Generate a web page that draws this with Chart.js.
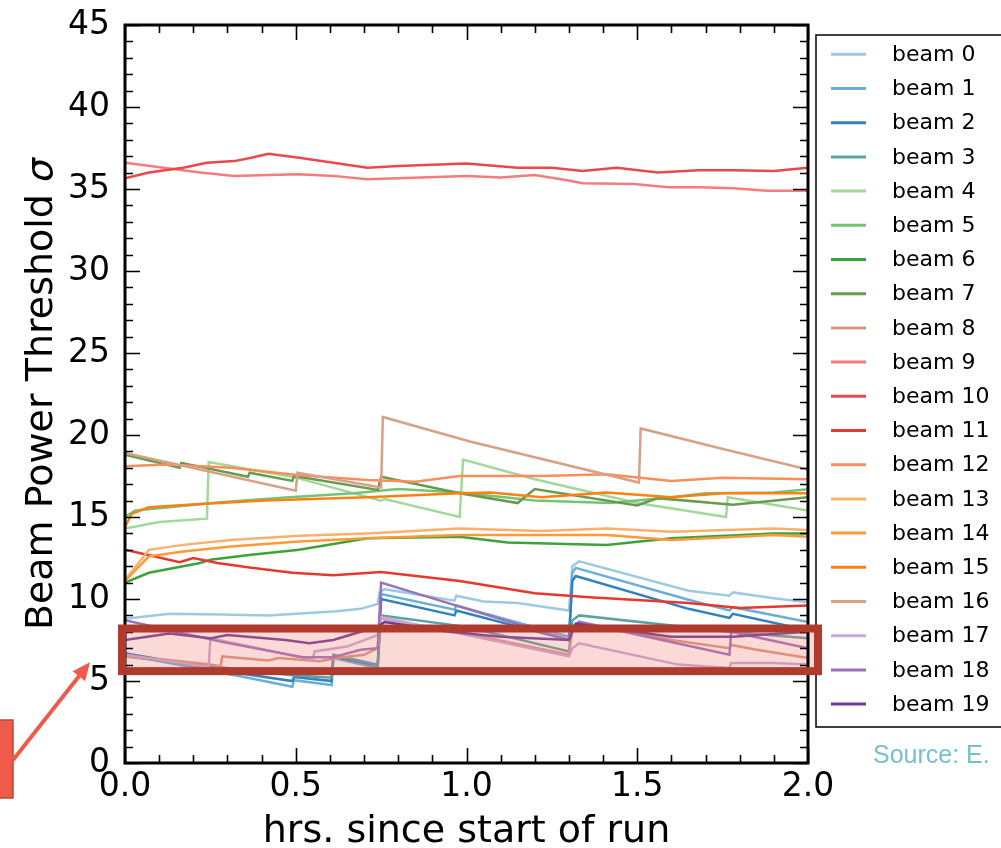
<!DOCTYPE html>
<html>
<head>
<meta charset="utf-8">
<title>Beam power threshold</title>
<script src="https://cdn.jsdelivr.net/npm/chart.js@4.4.1/dist/chart.umd.min.js"></script>
<style>
  html, body { margin: 0; padding: 0; background: #fff; }
  #wrap { width: 1001px; height: 848px; }
</style>
</head>
<body>
<div id="wrap"><canvas id="chart" width="1001" height="848"></canvas></div>
<script>
// [hours since start of run, threshold in sigma]
const beam0 = [[0, 8.8], [0.13, 9.1], [0.28, 9.05], [0.42, 9.0], [0.62, 9.25], [0.69, 9.4], [0.74, 9.7], [0.745, 10.4], [0.76, 10.6], [0.965, 9.9], [0.97, 10.2], [1.05, 9.85], [1.15, 9.75], [1.30, 9.3], [1.31, 12.0], [1.33, 12.3], [1.65, 10.5], [1.77, 10.2], [1.78, 10.4], [1.9, 10.05], [2.0, 9.8]];
const beam1 = [[0, 6.6], [0.36, 5.2], [0.49, 4.65], [0.495, 5.05], [0.605, 4.75], [0.61, 6.4], [0.74, 5.8], [0.75, 10.3], [0.965, 9.35], [0.97, 9.6], [1.30, 7.7], [1.31, 11.6], [1.32, 11.9], [1.65, 9.95], [1.77, 9.3], [1.78, 9.5], [2.0, 8.6]];
const beam2 = [[0, 6.7], [0.36, 5.4], [0.49, 5.0], [0.495, 5.25], [0.605, 5.0], [0.61, 6.5], [0.74, 5.95], [0.75, 10.0], [0.965, 9.0], [0.97, 9.3], [1.30, 7.5], [1.31, 11.1], [1.32, 11.4], [1.65, 9.4], [1.77, 8.85], [1.78, 9.1], [2.0, 8.1]];
const beam3 = [[0, 6.5], [0.3, 5.8], [0.49, 5.35], [0.605, 5.2], [0.61, 6.6], [0.74, 6.0], [0.75, 9.0], [1.0, 8.3], [1.30, 6.8], [1.31, 8.7], [1.33, 9.0], [1.77, 8.0], [2.0, 7.6]];
const beam4 = [[0, 14.3], [0.1, 14.7], [0.24, 14.9], [0.245, 18.35], [0.5, 17.4], [0.75, 16.0], [0.76, 16.1], [0.98, 15.0], [0.99, 18.5], [1.2, 17.3], [1.5, 15.85], [1.76, 15.0], [1.765, 16.2], [2.0, 15.4]];
const beam5 = [[0, 15.0], [0.03, 15.4], [0.13, 15.6], [0.28, 15.9], [0.48, 16.2], [0.67, 16.45], [0.8, 16.7], [0.98, 16.5], [1.2, 16.0], [1.42, 15.85], [1.6, 16.2], [1.7, 16.45], [1.9, 16.5], [2.0, 16.7]];
const beam6 = [[0, 11.0], [0.07, 11.6], [0.22, 12.2], [0.25, 12.4], [0.37, 12.7], [0.51, 13.0], [0.71, 13.7], [0.98, 13.8], [1.12, 13.45], [1.41, 13.3], [1.6, 13.7], [1.9, 14.0], [2.0, 14.0]];
const beam7 = [[0, 18.8], [0.16, 18.0], [0.165, 18.3], [0.36, 17.45], [0.365, 17.7], [0.49, 17.2], [0.495, 17.5], [0.74, 16.65], [0.75, 17.45], [0.98, 16.45], [1.15, 15.85], [1.17, 16.2], [1.2, 16.7], [1.5, 15.7], [1.56, 16.15], [1.78, 15.75], [2.0, 16.2]];
const beam8 = [[0, 6.5], [0.12, 6.3], [0.25, 6.0], [0.28, 5.9], [0.285, 6.5], [0.42, 6.25], [0.45, 6.4], [0.57, 6.2], [0.62, 6.4], [0.7, 6.6], [0.74, 7.0], [0.75, 8.8], [1.0, 7.9], [1.30, 6.6], [1.31, 8.2], [1.33, 8.6], [1.6, 7.5], [1.77, 7.0], [1.775, 7.2], [1.85, 6.9], [2.0, 6.4]];
const beam9 = [[0, 36.6], [0.22, 36.0], [0.32, 35.8], [0.42, 35.85], [0.51, 35.9], [0.61, 35.8], [0.71, 35.6], [0.8, 35.65], [1.0, 35.8], [1.1, 35.7], [1.2, 35.85], [1.29, 35.55], [1.34, 35.35], [1.49, 35.3], [1.59, 35.1], [1.68, 35.1], [1.78, 35.05], [1.88, 34.9], [2.0, 34.9]];
const beam10 = [[0, 35.65], [0.07, 36.0], [0.17, 36.3], [0.24, 36.6], [0.32, 36.7], [0.37, 36.9], [0.42, 37.15], [0.51, 36.9], [0.61, 36.6], [0.71, 36.3], [0.8, 36.4], [1.0, 36.55], [1.15, 36.3], [1.25, 36.3], [1.34, 36.1], [1.44, 36.3], [1.56, 36.0], [1.68, 36.15], [1.78, 36.15], [1.9, 36.1], [2.0, 36.3]];
const beam11 = [[0, 13.0], [0.16, 12.25], [0.2, 12.5], [0.27, 12.2], [0.37, 11.9], [0.49, 11.6], [0.61, 11.45], [0.75, 11.65], [0.98, 11.1], [1.2, 10.35], [1.36, 10.1], [1.65, 9.75], [1.8, 9.45], [2.0, 9.6]];
const beam12 = [[0, 18.1], [0.12, 18.2], [0.31, 18.0], [0.51, 17.55], [0.71, 17.25], [0.85, 17.15], [0.98, 17.5], [1.22, 17.5], [1.41, 17.6], [1.6, 17.2], [1.75, 17.4], [2.0, 17.3]];
const beam13 = [[0, 11.15], [0.07, 13.0], [0.17, 13.3], [0.31, 13.6], [0.51, 13.85], [0.71, 14.0], [0.98, 14.3], [1.22, 14.15], [1.41, 14.3], [1.6, 14.1], [1.9, 14.3], [2.0, 14.2]];
const beam14 = [[0, 11.1], [0.07, 12.6], [0.17, 12.9], [0.31, 13.2], [0.51, 13.5], [0.71, 13.7], [0.98, 13.9], [1.22, 13.9], [1.41, 13.9], [1.6, 13.6], [1.9, 13.9], [2.0, 13.8]];
const beam15 = [[0, 14.4], [0.02, 15.2], [0.07, 15.6], [0.22, 15.8], [0.41, 16.0], [0.71, 16.2], [0.98, 16.45], [1.07, 16.5], [1.22, 16.2], [1.41, 16.5], [1.6, 16.2], [1.75, 16.45], [2.0, 16.45]];
const beam16 = [[0, 18.9], [0.5, 16.6], [0.505, 17.7], [0.75, 16.8], [0.755, 21.1], [1.01, 19.6], [1.505, 17.1], [1.51, 20.4], [1.76, 19.1], [2.0, 17.9]];
const beam17 = [[0, 6.6], [0.245, 5.85], [0.25, 7.6], [0.55, 6.3], [0.555, 6.8], [0.65, 7.1], [0.74, 7.8], [0.75, 8.9], [1.3, 6.5], [1.31, 7.0], [1.33, 7.3], [1.62, 6.0], [1.77, 5.8], [1.775, 6.1], [1.9, 6.1], [2.0, 6.0]];
const beam18 = [[0, 8.7], [0.28, 7.4], [0.52, 6.45], [0.61, 6.45], [0.69, 6.9], [0.74, 7.0], [0.75, 11.0], [1.30, 7.5], [1.31, 8.3], [1.33, 8.6], [1.77, 6.6], [1.775, 8.0], [2.0, 7.0]];
const beam19 = [[0, 7.5], [0.13, 7.9], [0.25, 7.6], [0.3, 7.8], [0.47, 7.5], [0.54, 7.3], [0.61, 7.5], [0.69, 8.0], [0.74, 8.3], [0.76, 8.6], [0.95, 8.0], [1.1, 7.7], [1.30, 7.5], [1.32, 8.5], [1.6, 7.7], [1.78, 7.7], [1.92, 7.9], [2.0, 8.0]];

const beams = [beam0, beam1, beam2, beam3, beam4, beam5, beam6, beam7, beam8, beam9,
               beam10, beam11, beam12, beam13, beam14, beam15, beam16, beam17, beam18, beam19];
const beamColors = ['#9ecae1', '#6baed6', '#3182bd', '#5aa3a3', '#a1d99b', '#74c476', '#3ca33a', '#6a9a4c', '#d59a80', '#f47c7c',
                    '#e8484e', '#e5392f', '#f88f5a', '#fdb06b', '#fd9a38', '#fd8012', '#d9a088', '#c7aad8', '#9b72b9', '#6a3d9a'];

const xTicks = [0, 0.5, 1.0, 1.5, 2.0];
const yTicks = [0, 5, 10, 15, 20, 25, 30, 35, 40, 45];
const highlightBand = [5.6, 8.2];

const FONT = 'DejaVu Sans';

const decorations = {
  id: 'decorations',
  afterDatasetsDraw(chart) {
    const { ctx, chartArea: a, scales: { y } } = chart;
    const top = y.getPixelForValue(highlightBand[1]);
    const bot = y.getPixelForValue(highlightBand[0]);
    ctx.save();
    ctx.fillStyle = 'rgba(240, 120, 110, 0.28)';
    ctx.fillRect(a.left - 3, top, a.right - a.left + 13, bot - top);
    ctx.restore();
  },
  afterDraw(chart) {
    const { ctx, chartArea: a, scales: { x, y } } = chart;
    ctx.save();

    // spines
    ctx.strokeStyle = '#000';
    ctx.lineWidth = 3;
    ctx.strokeRect(a.left, a.top, a.right - a.left, a.bottom - a.top);

    // inward ticks on all four sides
    ctx.lineWidth = 1.6;
    ctx.beginPath();
    for (let i = 0; i <= 45; i++) {
      const len = i % 5 === 0 ? 15 : 8;
      const py = Math.round(y.getPixelForValue(i)) + 0.5;
      ctx.moveTo(a.left, py); ctx.lineTo(a.left + len, py);
      ctx.moveTo(a.right, py); ctx.lineTo(a.right - len, py);
    }
    for (let i = 0; i <= 20; i++) {
      const len = i % 5 === 0 ? 15 : 8;
      const px = Math.round(x.getPixelForValue(i / 10)) + 0.5;
      ctx.moveTo(px, a.bottom); ctx.lineTo(px, a.bottom - len);
      ctx.moveTo(px, a.top); ctx.lineTo(px, a.top + len);
    }
    ctx.stroke();

    // axis titles
    ctx.fillStyle = '#000';
    ctx.font = `38px ${FONT}`;
    ctx.textAlign = 'center';
    ctx.textBaseline = 'alphabetic';
    ctx.fillText('hrs. since start of run', (a.left + a.right) / 2, 842);

    const main = 'Beam Power Threshold ';
    const sigma = 'σ';
    ctx.font = `38px ${FONT}`;
    const w1 = ctx.measureText(main).width;
    ctx.font = `italic 38px ${FONT}`;
    const w2 = ctx.measureText(sigma).width;
    ctx.translate(52, (a.top + a.bottom) / 2);
    ctx.rotate(-Math.PI / 2);
    ctx.textAlign = 'left';
    ctx.font = `38px ${FONT}`;
    ctx.fillText(main, -(w1 + w2) / 2, 0);
    ctx.font = `italic 38px ${FONT}`;
    ctx.fillText(sigma, -(w1 + w2) / 2 + w1, 0);
    ctx.setTransform(1, 0, 0, 1, 0, 0);

    // legend
    const lx = a.right + 8;
    ctx.lineWidth = 1.5;
    ctx.strokeStyle = '#000';
    ctx.fillStyle = '#fff';
    ctx.fillRect(lx, 35, 200, 692);
    ctx.strokeRect(lx, 35, 200, 692);
    ctx.font = `22px ${FONT}`;
    ctx.textBaseline = 'middle';
    ctx.textAlign = 'left';
    chart.data.datasets.forEach((ds, i) => {
      const ly = 54.3 + 34.2 * i;
      ctx.strokeStyle = ds.borderColor;
      ctx.lineWidth = 3;
      ctx.beginPath();
      ctx.moveTo(lx + 15, ly); ctx.lineTo(lx + 50, ly);
      ctx.stroke();
      ctx.fillStyle = '#000';
      ctx.fillText(ds.label, lx + 76, ly + 1);
    });

    // outline of the highlighted band
    const top = y.getPixelForValue(highlightBand[1]);
    const bot = y.getPixelForValue(highlightBand[0]);
    ctx.strokeStyle = '#b03a2e';
    ctx.lineWidth = 8;
    ctx.strokeRect(a.left - 3, top, a.right - a.left + 13, bot - top);

    // callout box and arrow
    ctx.fillStyle = '#ef5b4b';
    ctx.strokeStyle = '#b8473b';
    ctx.lineWidth = 1.5;
    ctx.fillRect(-2, 720, 15, 78);
    ctx.strokeRect(-2, 720, 15, 78);
    const tx = a.left - 35, ty = bot - 9;
    const sx = 13, sy = 760;
    const ang = Math.atan2(ty - sy, tx - sx);
    ctx.strokeStyle = '#ef5b4b';
    ctx.lineWidth = 4;
    ctx.beginPath();
    ctx.moveTo(sx, sy);
    ctx.lineTo(tx - 14 * Math.cos(ang), ty - 14 * Math.sin(ang));
    ctx.stroke();
    ctx.beginPath();
    ctx.moveTo(tx, ty);
    ctx.lineTo(tx - 18 * Math.cos(ang) + 8 * Math.sin(ang), ty - 18 * Math.sin(ang) - 8 * Math.cos(ang));
    ctx.lineTo(tx - 18 * Math.cos(ang) - 8 * Math.sin(ang), ty - 18 * Math.sin(ang) + 8 * Math.cos(ang));
    ctx.closePath();
    ctx.fill();

    // source note
    ctx.fillStyle = '#76c1c9';
    ctx.font = '25px "Liberation Sans", Arial, sans-serif';
    ctx.textAlign = 'left';
    ctx.textBaseline = 'alphabetic';
    ctx.fillText('Source: E.', 873, 763);

    ctx.restore();
  }
};

new Chart(document.getElementById('chart'), {
  type: 'line',
  data: {
    datasets: beams.map((b, i) => ({
      label: 'beam ' + i,
      data: b.map(([h, v]) => ({ x: h, y: v })),
      borderColor: beamColors[i],
      backgroundColor: beamColors[i],
      borderWidth: 2.5,
      pointRadius: 0,
      tension: 0,
      order: beams.length - i
    }))
  },
  options: {
    responsive: false,
    animation: false,
    layout: { padding: { top: 25, right: 193, left: 0, bottom: 0 } },
    plugins: { legend: { display: false }, tooltip: { enabled: false } },
    scales: {
      x: {
        type: 'linear', min: 0, max: 2,
        afterFit(s) { s.height = 85; s.paddingLeft = 0; s.paddingRight = 0; },
        afterBuildTicks(s) { s.ticks = xTicks.map(v => ({ value: v })); },
        ticks: {
          callback: v => v.toFixed(1),
          font: { family: FONT, size: 33 }, color: '#000',
          padding: 5, maxRotation: 0, autoSkip: false
        },
        grid: { display: false, drawTicks: false },
        border: { display: false }
      },
      y: {
        min: 0, max: 45,
        afterFit(s) { s.width = 125; s.paddingTop = 0; s.paddingBottom = 0; },
        afterBuildTicks(s) { s.ticks = yTicks.map(v => ({ value: v })); },
        ticks: {
          font: { family: FONT, size: 33 }, color: '#000',
          padding: 15, autoSkip: false
        },
        grid: { display: false, drawTicks: false },
        border: { display: false }
      }
    }
  },
  plugins: [decorations]
});
</script>
</body>
</html>
